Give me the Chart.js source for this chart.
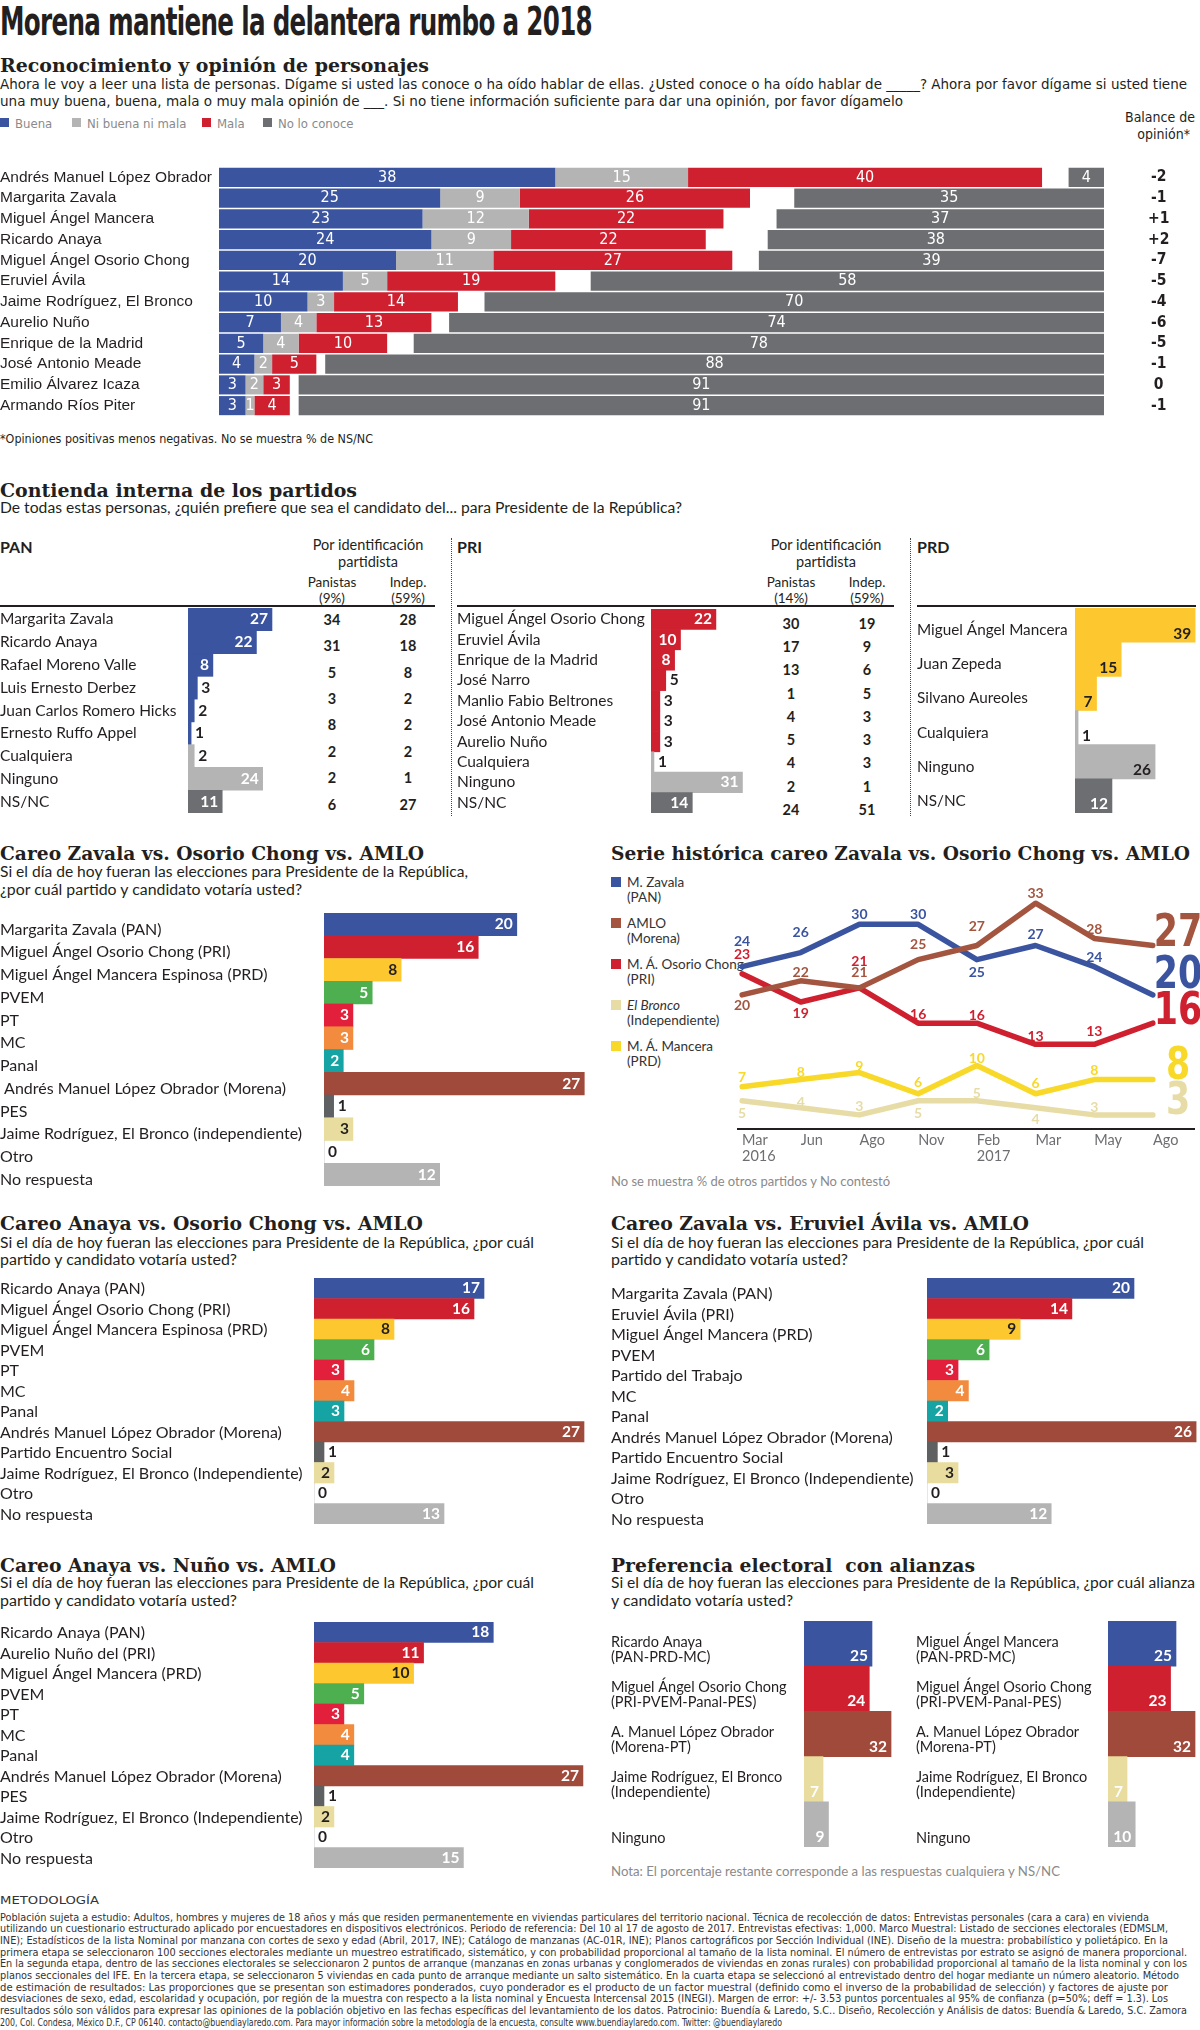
<!DOCTYPE html>
<html>
<head>
<meta charset="utf-8">
<script src="https://cdn.jsdelivr.net/npm/chart.js@4/dist/chart.umd.min.js"></script>
<style>
  body { margin: 0; background: #fff; width: 1200px; height: 2030px; position: relative; overflow: hidden; color: #231f20; }
  .t { position: absolute; white-space: nowrap; transform-origin: 0 50%; }
  .box { position: absolute; }
  .sq { position: absolute; width: 9px; height: 9px; }
  .rule { position: absolute; height: 2px; background: #231f20; }
  .dots { position: absolute; width: 0; border-left: 1.5px dotted #444; }
</style>
</head>
<body>
<script>
/* ── Data ─────────────────────────────────────────────────────── */
const personajes = ['Andrés Manuel López Obrador', 'Margarita Zavala', 'Miguel Ángel Mancera', 'Ricardo Anaya',
  'Miguel Ángel Osorio Chong', 'Eruviel Ávila', 'Jaime Rodríguez, El Bronco', 'Aurelio Nuño',
  'Enrique de la Madrid', 'José Antonio Meade', 'Emilio Álvarez Icaza', 'Armando Ríos Piter'];
const buena = [38, 25, 23, 24, 20, 14, 10, 7, 5, 4, 3, 3];
const niBuenaNiMala = [15, 9, 12, 9, 11, 5, 3, 4, 4, 2, 2, 1];
const mala = [40, 26, 22, 22, 27, 19, 14, 13, 10, 5, 3, 4];
const noLoConoce = [4, 35, 37, 38, 39, 58, 70, 74, 78, 88, 91, 91];
const balance = ['-2', '-1', '+1', '+2', '-7', '-5', '-4', '-6', '-5', '-1', '0', '-1'];

const panNames = ['Margarita Zavala', 'Ricardo Anaya', 'Rafael Moreno Valle', 'Luis Ernesto Derbez',
  'Juan Carlos Romero Hicks', 'Ernesto Ruffo Appel', 'Cualquiera', 'Ninguno', 'NS/NC'];
const panVals = [27, 22, 8, 3, 2, 1, 2, 24, 11];
const panPanistas = [34, 31, 5, 3, 8, 2, 2, 6];
const panIndep = [28, 18, 8, 2, 2, 2, 1, 27];

const priNames = ['Miguel Ángel Osorio Chong', 'Eruviel Ávila', 'Enrique de la Madrid', 'José Narro',
  'Manlio Fabio Beltrones', 'José Antonio Meade', 'Aurelio Nuño', 'Cualquiera', 'Ninguno', 'NS/NC'];
const priVals = [22, 10, 8, 5, 3, 3, 3, 1, 31, 14];
const priPanistas = [30, 17, 13, 1, 4, 5, 4, 2, 24];
const priIndep = [19, 9, 6, 5, 3, 3, 3, 1, 51];

const prdNames = ['Miguel Ángel Mancera', 'Juan Zepeda', 'Silvano Aureoles', 'Cualquiera', 'Ninguno', 'NS/NC'];
const prdVals = [39, 15, 7, 1, 26, 12];

const careo1Names = ['Margarita Zavala (PAN)', 'Miguel Ángel Osorio Chong (PRI)', 'Miguel Ángel Mancera Espinosa (PRD)',
  'PVEM', 'PT', 'MC', 'Panal', ' Andrés Manuel López Obrador (Morena)', 'PES',
  'Jaime Rodríguez, El Bronco (independiente)', 'Otro', 'No respuesta'];
const careo1Vals = [20, 16, 8, 5, 3, 3, 2, 27, 1, 3, 0, 12];

const careo2Names = ['Ricardo Anaya (PAN)', 'Miguel Ángel Osorio Chong (PRI)', 'Miguel Ángel Mancera Espinosa (PRD)',
  'PVEM', 'PT', 'MC', 'Panal', 'Andrés Manuel López Obrador (Morena)', 'Partido Encuentro Social',
  'Jaime Rodríguez, El Bronco (Independiente)', 'Otro', 'No respuesta'];
const careo2Vals = [17, 16, 8, 6, 3, 4, 3, 27, 1, 2, 0, 13];

const careo3Names = ['Margarita Zavala (PAN)', 'Eruviel Ávila (PRI)', 'Miguel Ángel Mancera (PRD)',
  'PVEM', 'Partido del Trabajo', 'MC', 'Panal', 'Andrés Manuel López Obrador (Morena)', 'Partido Encuentro Social',
  'Jaime Rodríguez, El Bronco (Independiente)', 'Otro', 'No respuesta'];
const careo3Vals = [20, 14, 9, 6, 3, 4, 2, 26, 1, 3, 0, 12];

const careo4Names = ['Ricardo Anaya (PAN)', 'Aurelio Nuño del (PRI)', 'Miguel Ángel Mancera (PRD)',
  'PVEM', 'PT', 'MC', 'Panal', 'Andrés Manuel López Obrador (Morena)', 'PES',
  'Jaime Rodríguez, El Bronco (Independiente)', 'Otro', 'No respuesta'];
const careo4Vals = [18, 11, 10, 5, 3, 4, 4, 27, 1, 2, 0, 15];

const meses = [['Mar', '2016'], 'Jun', 'Ago', 'Nov', ['Feb', '2017'], 'Mar', 'May', 'Ago'];
const serieZavala = [24, 26, 30, 30, 25, 27, 24, 20];
const serieAmlo = [20, 22, 21, 25, 27, 33, 28, 27];
const serieOsorio = [23, 19, 21, 16, 16, 13, 13, 16];
const serieMancera = [7, 8, 9, 6, 10, 6, 8, 8];
const serieBronco = [5, 4, 3, 5, 5, 4, 3, 3];

const alianzaANames = [['Ricardo Anaya', '(PAN-PRD-MC)'], ['Miguel Ángel Osorio Chong', '(PRI-PVEM-Panal-PES)'],
  ['A. Manuel López Obrador', '(Morena-PT)'], ['Jaime Rodríguez, El Bronco', '(Independiente)'], ['', 'Ninguno']];
const alianzaAVals = [25, 24, 32, 7, 9];
const alianzaBNames = [['Miguel Ángel Mancera', '(PAN-PRD-MC)'], ['Miguel Ángel Osorio Chong', '(PRI-PVEM-Panal-PES)'],
  ['A. Manuel López Obrador', '(Morena-PT)'], ['Jaime Rodríguez, El Bronco', '(Independiente)'], ['', 'Ninguno']];
const alianzaBVals = [25, 23, 32, 7, 10];

/* ── Styles ───────────────────────────────────────────────────── */
const W = '#ffffff', K = '#231f20';
const BLUE = '#3a54a0', RED = '#cf2030', YEL = '#fdc82f', GREEN = '#4daf4f', PTRED = '#e2203b',
  ORANGE = '#f28b3d', TEAL = '#15a3a3', BROWN = '#a04a3b', PESG = '#5f6062', BEIGE = '#e8dd9e',
  LGRAY = '#b4b4b4', DGRAY = '#6d6e71';
const SANS = "'Liberation Sans', Arial, sans-serif";
const NARROW = "'Liberation Sans Narrow', 'DejaVu Sans Condensed', 'Liberation Sans', sans-serif";
const HUM = "Lato, 'Open Sans', sans-serif";
const SERIF = "'DejaVu Serif', 'Liberation Serif', serif";

Chart.defaults.animation = false;
Chart.defaults.color = K;
Chart.defaults.font.family = HUM;

/* ── Helpers ──────────────────────────────────────────────────── */
function put(x, yc, html, size, style, fitW, align) {
  const el = document.createElement('div');
  el.className = 't';
  el.style.cssText = `left:${x}px;top:${yc - size / 2}px;font-size:${size}px;line-height:${size}px;` + (style || '');
  el.innerHTML = html;
  document.body.appendChild(el);
  let tf = '';
  if (align === 'center') tf = 'translateX(-50%)';
  if (align === 'right') tf = 'translateX(-100%)';
  if (fitW) tf += ` scaleX(${fitW / el.getBoundingClientRect().width})`;
  el.style.transform = tf;
  return el;
}
const head = (x, yc, s, w) => put(x, yc, s, 19, `font-family:${SERIF};font-weight:bold;`, w);
const sub = (x, yc, s, w) => put(x, yc, s, 14.5, `font-family:${HUM};`, w);

function mkBox(left, top, width, height) {
  const box = document.createElement('div');
  box.className = 'box';
  box.style.cssText = `left:${left}px;top:${top}px;width:${width}px;height:${height}px`;
  const cv = document.createElement('canvas');
  box.appendChild(cv);
  document.body.appendChild(box);
  return cv;
}

const valueLabels = {
  id: 'valueLabels',
  afterDatasetsDraw(chart, args, o) {
    const ctx = chart.ctx;
    ctx.save();
    ctx.font = o.fnt;
    ctx.textBaseline = 'middle';
    chart.data.datasets.forEach((ds, di) => {
      chart.getDatasetMeta(di).data.forEach((bar, i) => {
        const v = ds.vals[i];
        const p = bar.getProps(['x', 'y', 'base', 'height'], true);
        let x, align, color = ds.txt[i];
        let y = p.y + (o.yOff || 0);
        if (o.mode === 'center') { x = (p.x + p.base) / 2; align = 'center'; }
        else if (o.mode === 'bottom') { x = p.x - o.pad; align = 'right'; y = p.y + p.height / 2 - 10; }
        else if (v >= o.minInside) { x = p.x - o.pad; align = 'right'; }
        else { x = p.x + 4; align = 'left'; color = K; }
        ctx.fillStyle = color;
        ctx.textAlign = align;
        ctx.fillText(String(v), x, y);
      });
    });
    ctx.restore();
  }
};

// extra room under the last row so shifted labels are not clipped
const PAD_B = 12;

function barChart(o) {
  const cv = mkBox(o.left, o.top, o.width, o.height + PAD_B);
  const rightW = o.rightW || 0;
  const scales = {
    x: { display: false, min: 0, max: (o.width - o.labelW - rightW) / o.unit },
    y: {
      grid: { display: false, drawTicks: false }, border: { display: false },
      afterFit: s => { s.width = o.labelW; s.paddingTop = 0; s.paddingBottom = 0; },
      ticks: { crossAlign: 'far', padding: 0, autoSkip: false, labelOffset: o.labelOffset || 0, color: K, font: o.tickFont }
    }
  };
  if (o.right) scales.y2 = o.right;
  return new Chart(cv, {
    type: 'bar',
    data: { labels: o.labels, datasets: o.datasets },
    options: {
      indexAxis: 'y', responsive: true, maintainAspectRatio: false, events: [],
      layout: { padding: { top: 0, left: 0, right: 0, bottom: PAD_B } },
      plugins: { legend: { display: false }, tooltip: { enabled: false }, valueLabels: o.values },
      scales
    },
    plugins: [valueLabels]
  });
}

function simpleSet(vals, colors, txt) {
  return { data: vals, vals, txt, backgroundColor: colors, barPercentage: 1, categoryPercentage: 1 };
}

/* ── Header ───────────────────────────────────────────────────── */
put(0, 21, 'Morena mantiene la delantera rumbo a 2018', 39, `font-family:${NARROW};font-weight:bold;letter-spacing:-1px;`, 592);
head(0, 65, 'Reconocimiento y opinión de personajes', 429);
put(0, 84, 'Ahora le voy a leer una lista de personas. Dígame si usted las conoce o ha oído hablar de ellas. ¿Usted conoce o ha oído hablar de _____? Ahora por favor dígame si usted tiene', 14.5, `font-family:${NARROW};`, 1187);
put(0, 101, 'una muy buena, buena, mala o muy mala opinión de ___. Si no tiene información suficiente para dar una opinión, por favor dígamelo', 14.5, `font-family:${NARROW};`, 903);

[[0, BLUE, 'Buena'], [72, LGRAY, 'Ni buena ni mala'], [202, RED, 'Mala'], [263, DGRAY, 'No lo conoce']].forEach(([x, c, s]) => {
  const q = document.createElement('div');
  q.className = 'sq';
  q.style.cssText = `left:${x}px;top:118px;background:${c}`;
  document.body.appendChild(q);
  put(x + 15, 123, s, 13, `font-family:${NARROW};color:#8a8a8a;`);
});
put(1195, 117, 'Balance de', 14, `font-family:${NARROW};`, 0, 'right');
put(1190, 134, 'opinión*', 14, `font-family:${NARROW};`, 0, 'right');

/* ── Section 1: reconocimiento ────────────────────────────────── */
const s1Colors = [BLUE, LGRAY, RED];
let cum = buena.map(() => 0);
const s1Sets = [buena, niBuenaNiMala, mala].map((arr, k) => {
  const d = arr.map((v, i) => [cum[i], cum[i] + v]);
  cum = cum.map((c, i) => c + arr[i]);
  return { data: d, vals: arr, txt: arr.map(() => W), backgroundColor: s1Colors[k], grouped: false, barPercentage: 0.92, categoryPercentage: 1 };
});
s1Sets.push({ data: noLoConoce.map(v => [100 - v, 100]), vals: noLoConoce, txt: noLoConoce.map(() => W),
  backgroundColor: DGRAY, grouped: false, barPercentage: 0.92, categoryPercentage: 1 });

barChart({
  left: 0, top: 167, width: 1200, height: 249, labelW: 219, rightW: 96, unit: 8.85,
  labels: personajes, datasets: s1Sets,
  tickFont: { family: SANS, size: 15.5 },
  values: { mode: 'center', fnt: `16px ${NARROW}` },
  right: {
    type: 'category', position: 'right', labels: balance, offset: true,
    grid: { display: false, drawTicks: false }, border: { display: false },
    afterFit: s => { s.width = 96; s.paddingTop = 0; s.paddingBottom = 0; },
    ticks: { crossAlign: 'center', padding: 44, autoSkip: false, color: K, font: { family: NARROW, size: 15.5, weight: 'bold' } }
  }
});
put(0, 439, '*Opiniones positivas menos negativas. No se muestra % de NS/NC', 12, `font-family:${NARROW};`, 373);

/* ── Section 2: contienda interna ─────────────────────────────── */
head(0, 490, 'Contienda interna de los partidos', 357);
sub(0, 508, 'De todas estas personas, ¿quién prefiere que sea el candidato del... para Presidente de la República?', 682);

const hdrB = `font-family:${HUM};font-weight:bold;`;
const hdr = `font-family:${HUM};`;
put(0, 547, 'PAN', 16, hdrB);
put(457, 547, 'PRI', 16, hdrB);
put(917, 547, 'PRD', 16, hdrB);
[[368, 332, 408, '(9%)'], [826, 791, 867, '(14%)']].forEach(([c, a, b, pct]) => {
  put(c, 545, 'Por identificación', 14.5, hdr, 0, 'center');
  put(c, 562, 'partidista', 14.5, hdr, 0, 'center');
  put(a, 583, 'Panistas', 13.5, hdr, 0, 'center');
  put(a, 599, pct, 13.5, hdr, 0, 'center');
  put(b, 583, 'Indep.', 13.5, hdr, 0, 'center');
  put(b, 599, '(59%)', 13.5, hdr, 0, 'center');
});
[[0, 435], [457, 894], [917, 1196]].forEach(([a, b]) => {
  const r = document.createElement('div');
  r.className = 'rule';
  r.style.cssText = `left:${a}px;width:${b - a}px;top:605px`;
  document.body.appendChild(r);
});
[451, 910].forEach(x => {
  const d = document.createElement('div');
  d.className = 'dots';
  d.style.cssText = `left:${x}px;top:538px;height:278px`;
  document.body.appendChild(d);
});

const sec2Font = { family: HUM, size: 15.5 };
const sec2Vals = { mode: 'end', minInside: 7, pad: 4, fnt: `bold 15.5px ${HUM}` };
barChart({
  left: 0, top: 608, width: 308, height: 205, labelW: 188, unit: 3.11,
  labels: panNames, tickFont: sec2Font, values: sec2Vals,
  datasets: [simpleSet(panVals, [BLUE, BLUE, BLUE, BLUE, BLUE, BLUE, LGRAY, LGRAY, DGRAY], panVals.map(() => W))]
});
barChart({
  left: 457, top: 609, width: 294, height: 204, labelW: 194, unit: 2.95,
  labels: priNames, tickFont: sec2Font, values: sec2Vals,
  datasets: [simpleSet(priVals, [RED, RED, RED, RED, RED, RED, RED, LGRAY, LGRAY, DGRAY], priVals.map(() => W))]
});
barChart({
  left: 917, top: 608, width: 283, height: 205, labelW: 158, unit: 3.08, labelOffset: 5,
  labels: prdNames, tickFont: { family: HUM, size: 15.3 }, values: { mode: 'end', minInside: 7, pad: 4, yOff: 8.5, fnt: `bold 15.5px ${HUM}` },
  datasets: [simpleSet(prdVals, [YEL, YEL, YEL, LGRAY, LGRAY, DGRAY], [K, K, K, K, K, W])]
});
const numStyle = `font-family:${HUM};font-weight:bold;`;
panPanistas.forEach((v, i) => put(332, 620 + 26.4 * i, String(v), 14.5, numStyle, 0, 'center'));
panIndep.forEach((v, i) => put(408, 620 + 26.4 * i, String(v), 14.5, numStyle, 0, 'center'));
priPanistas.forEach((v, i) => put(791, 624 + 23.25 * i, String(v), 14.5, numStyle, 0, 'center'));
priIndep.forEach((v, i) => put(867, 624 + 23.25 * i, String(v), 14.5, numStyle, 0, 'center'));

/* ── Careos ───────────────────────────────────────────────────── */
const careoColors = [BLUE, RED, YEL, GREEN, PTRED, ORANGE, TEAL, BROWN, PESG, BEIGE, LGRAY, LGRAY];
const careoTxt = [W, W, K, W, W, W, W, W, K, K, K, W];
const careoFont = { family: HUM, size: 16 };
const careoVals = { mode: 'end', minInside: 2, pad: 4, fnt: `bold 15.5px ${HUM}` };

head(0, 853, 'Careo Zavala vs. Osorio Chong vs. AMLO', 424);
sub(0, 872, 'Si el día de hoy fueran las elecciones para Presidente de la República,', 468);
sub(0, 890, '¿por cuál partido y candidato votaría usted?', 302);
barChart({
  left: 0, top: 913, width: 600, height: 273, labelW: 324, unit: 9.64, labelOffset: 5,
  labels: careo1Names, tickFont: careoFont, values: careoVals,
  datasets: [simpleSet(careo1Vals, careoColors, careoTxt)]
});

head(0, 1223, 'Careo Anaya vs. Osorio Chong vs. AMLO', 423);
sub(0, 1243, 'Si el día de hoy fueran las elecciones para Presidente de la República, ¿por cuál', 534);
sub(0, 1260, 'partido y candidato votaría usted?', 237);
barChart({
  left: 0, top: 1278, width: 600, height: 246, labelW: 314, unit: 10.0, labelOffset: 1,
  labels: careo2Names, tickFont: careoFont, values: careoVals,
  datasets: [simpleSet(careo2Vals, careoColors, careoTxt)]
});

head(611, 1223, 'Careo Zavala vs. Eruviel Ávila vs. AMLO', 418);
sub(611, 1243, 'Si el día de hoy fueran las elecciones para Presidente de la República, ¿por cuál', 533);
sub(611, 1260, 'partido y candidato votaría usted?', 237);
barChart({
  left: 611, top: 1278, width: 589, height: 246, labelW: 316, unit: 10.35, labelOffset: 6,
  labels: careo3Names, tickFont: careoFont, values: careoVals,
  datasets: [simpleSet(careo3Vals, careoColors, careoTxt)]
});

head(0, 1565, 'Careo Anaya vs. Nuño vs. AMLO', 336);
sub(0, 1583, 'Si el día de hoy fueran las elecciones para Presidente de la República, ¿por cuál', 534);
sub(0, 1601, 'partido y candidato votaría usted?', 237);
barChart({
  left: 0, top: 1622, width: 600, height: 246, labelW: 314, unit: 9.96, labelOffset: 1,
  labels: careo4Names, tickFont: careoFont, values: careoVals,
  datasets: [simpleSet(careo4Vals, careoColors, careoTxt)]
});

/* ── Alianzas ─────────────────────────────────────────────────── */
head(611, 1565, 'Preferencia electoral&nbsp; con alianzas', 364);
sub(611, 1583, 'Si el día de hoy fueran las elecciones para Presidente de la República, ¿por cuál alianza', 584);
sub(611, 1601, 'y candidato votaría usted?', 182);
const alColors = [BLUE, RED, BROWN, BEIGE, LGRAY];
const alVals = { mode: 'bottom', pad: 4, fnt: `bold 15.5px ${HUM}` };
const alFont = { family: HUM, size: 14.5, lineHeight: 1.05 };
barChart({
  left: 611, top: 1621, width: 300, height: 226, labelW: 193, unit: 2.72, labelOffset: 6,
  labels: alianzaANames, tickFont: alFont, values: alVals,
  datasets: [simpleSet(alianzaAVals, alColors, alianzaAVals.map(() => W))]
});
barChart({
  left: 916, top: 1621, width: 284, height: 226, labelW: 192, unit: 2.72, labelOffset: 6,
  labels: alianzaBNames, tickFont: alFont, values: alVals,
  datasets: [simpleSet(alianzaBVals, alColors, alianzaBVals.map(() => W))]
});
put(611, 1872, 'Nota: El porcentaje restante corresponde a las respuestas cualquiera y NS/NC', 12.5, `font-family:${HUM};color:#8a8a8a;`, 449);

/* ── Serie histórica ──────────────────────────────────────────── */
head(611, 853, 'Serie histórica careo Zavala vs. Osorio Chong vs. AMLO', 579);
const legendItems = [
  [BLUE, 'M. Zavala', '(PAN)'],
  ['#a4553f', 'AMLO', '(Morena)'],
  [RED, 'M. Á. Osorio Chong', '(PRI)'],
  ['#e7dca6', '<i>El Bronco</i>', '(Independiente)'],
  ['#f8d92a', 'M. Á. Mancera', '(PRD)']
];
legendItems.forEach(([c, a, b], i) => {
  const y = 883 + 41 * i;
  const q = document.createElement('div');
  q.className = 'sq';
  q.style.cssText = `left:611px;top:${y - 6}px;width:10px;height:10px;background:${c}`;
  document.body.appendChild(q);
  put(627, y, a, 13.5, `font-family:${HUM};color:#333;`);
  put(627, y + 15, b, 13.5, `font-family:${HUM};color:#333;`);
});
put(611, 1182, 'No se muestra % de otros partidos y No contestó', 12.5, `font-family:${HUM};color:#8a8a8a;`, 279);

const lineDeco = {
  id: 'lineDeco',
  afterDatasetsDraw(chart) {
    const { ctx, chartArea } = chart;
    ctx.save();
    ctx.strokeStyle = K;
    ctx.lineWidth = 2;
    ctx.beginPath();
    ctx.moveTo(chartArea.left - 5, chartArea.bottom);
    ctx.lineTo(chart.width - 5, chartArea.bottom);
    ctx.stroke();
    ctx.textAlign = 'center';
    ctx.textBaseline = 'middle';
    chart.data.datasets.forEach((ds, di) => {
      const pts = chart.getDatasetMeta(di).data;
      ctx.fillStyle = ds.borderColor;
      pts.forEach((p, i) => {
        const v = ds.data[i];
        if (i === pts.length - 1) {
          ctx.save();
          ctx.font = `bold 44px ${NARROW}`;
          ctx.translate(chart.width - 22, p.y + ds.bigOff);
          ctx.scale(0.88, 1);
          ctx.fillText(String(v), 0, 0);
          ctx.restore();
        } else {
          ctx.font = `bold 14px ${HUM}`;
          ctx.fillText(String(v), p.x, p.y + ds.off[i]);
        }
      });
    });
    ctx.restore();
  }
};

const lineCv = mkBox(600, 870, 600, 304);
const lineSet = (data, color, off, bigOff) => ({ data, borderColor: color, backgroundColor: color, off, bigOff });
new Chart(lineCv, {
  type: 'line',
  data: {
    labels: meses,
    datasets: [
      lineSet(serieBronco, '#e7dca6', [13, -5, -8, 13, -7, 12, -7], -12),
      lineSet(serieMancera, '#f8d92a', [-9, -7, -6, -11, -7, -10, -9], -12),
      lineSet(serieAmlo, '#a4553f', [11, -8, -15, -15, -19, -10, -9], -11),
      lineSet(serieOsorio, RED, [-19, 12, -26, -9, -8, -8, -13], -11),
      lineSet(serieZavala, BLUE, [-25, -20, -10, -10, 13, -11, -9], -18)
    ]
  },
  options: {
    responsive: true, maintainAspectRatio: false, events: [],
    layout: { padding: { left: 142, right: 47, top: 12, bottom: 0 } },
    elements: {
      point: { radius: 0 },
      line: { borderWidth: 5.5, tension: 0, borderJoinStyle: 'round', borderCapStyle: 'round' }
    },
    plugins: { legend: { display: false }, tooltip: { enabled: false } },
    scales: {
      x: {
        grid: { display: false, drawTicks: false }, border: { display: false },
        afterFit: s => { s.height = 45; s.paddingLeft = 0; s.paddingRight = 0; },
        ticks: { align: 'start', padding: 3, autoSkip: false, maxRotation: 0, color: '#6d6e71', font: { family: HUM, size: 14.5, lineHeight: 1.1 } }
      },
      y: { display: false, min: 1, max: 36 }
    }
  },
  plugins: [lineDeco]
});

/* ── Metodología ──────────────────────────────────────────────── */
const metodo = [
  'Población sujeta a estudio: Adultos, hombres y mujeres de 18 años y más que residen permanentemente en viviendas particulares del territorio nacional. Técnica de recolección de datos: Entrevistas personales (cara a cara) en vivienda',
  'utilizando un cuestionario estructurado aplicado por encuestadores en dispositivos electrónicos. Periodo de referencia: Del 10 al 17 de agosto de 2017. Entrevistas efectivas: 1,000. Marco Muestral: Listado de secciones electorales (EDMSLM,',
  'INE); Estadísticos de la lista Nominal por manzana con cortes de sexo y edad (Abril, 2017, INE); Catálogo de manzanas (AC-01R, INE); Planos cartográficos por Sección Individual (INE). Diseño de la muestra: probabilístico y polietápico. En la',
  'primera etapa se seleccionaron 100 secciones electorales mediante un muestreo estratificado, sistemático, y con probabilidad proporcional al tamaño de la lista nominal. El número de entrevistas por estrato se asignó de manera proporcional.',
  'En la segunda etapa, dentro de las secciones electorales se seleccionaron 2 puntos de arranque (manzanas en zonas urbanas y conglomerados de viviendas en zonas rurales) con probabilidad proporcional al tamaño de la lista nominal y con los',
  'planos seccionales del IFE. En la tercera etapa, se seleccionaron 5 viviendas en cada punto de arranque mediante un salto sistemático. En la cuarta etapa se seleccionó al entrevistado dentro del hogar mediante un número aleatorio. Método',
  'de estimación de resultados: Las proporciones que se presentan son estimadores ponderados, cuyo ponderador es el producto de un factor muestral (definido como el inverso de la probabilidad de selección) y factores de ajuste por',
  'desviaciones de sexo, edad, escolaridad y ocupación, por región de la muestra con respecto a la lista nominal y Encuesta Intercensal 2015 (INEGI). Margen de error: +/- 3.53 puntos porcentuales al 95% de confianza (p=50%; deff = 1.3). Los',
  'resultados sólo son válidos para expresar las opiniones de la población objetivo en las fechas específicas del levantamiento de los datos. Patrocinio: Buendía &amp; Laredo, S.C.. Diseño, Recolección y Análisis de datos: Buendía &amp; Laredo, S.C. Zamora',
  '200, Col. Condesa, México D.F., CP 06140. contacto@buendiaylaredo.com. Para mayor información sobre la metodología de la encuesta, consulte www.buendiaylaredo.com. Twitter: @buendiaylaredo'
];
const metodoW = [1149, 1168, 1168, 1187, 1187, 1179, 1168, 1168, 1187, 782];
const mStyle = `font-family:${NARROW};color:#333;`;
put(0, 1900, 'METODOLOGÍA', 11, mStyle, 99);
metodo.forEach((s, i) => put(0, 1917 + 11.67 * i, s, 11, mStyle, metodoW[i]));
</script>
</body>
</html>
